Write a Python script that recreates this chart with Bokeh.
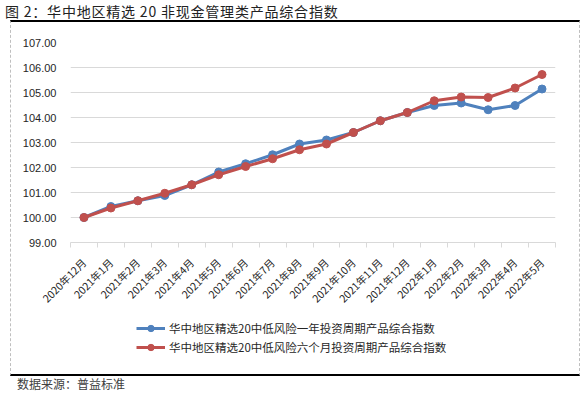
from math import pi
from bokeh.plotting import figure
from bokeh.layouts import column
from bokeh.models import (FactorRange, Range1d, LinearAxis, CategoricalAxis, FixedTicker,
                          NumeralTickFormatter, Legend, LegendItem, Div,
                          ColumnDataSource, InlineStyleSheet)
from bokeh.embed import file_html
from bokeh.resources import INLINE

# ---- data ----
months = ["2020年12月", "2021年1月", "2021年2月", "2021年3月", "2021年4月", "2021年5月",
          "2021年6月", "2021年7月", "2021年8月", "2021年9月", "2021年10月", "2021年11月",
          "2021年12月", "2022年1月", "2022年2月", "2022年3月", "2022年4月", "2022年5月"]
one_year = [100.00, 100.44, 100.67, 100.88, 101.31, 101.82, 102.15, 102.51, 102.94,
            103.10, 103.40, 103.87, 104.20, 104.48, 104.58, 104.31, 104.48, 105.14]
six_month = [100.00, 100.38, 100.67, 100.97, 101.31, 101.71, 102.04, 102.35, 102.71,
             102.94, 103.40, 103.87, 104.20, 104.67, 104.82, 104.80, 105.18, 105.72]
y_ticks = [99, 100, 101, 102, 103, 104, 105, 106, 107]
series_names = ["华中地区精选20中低风险一年投资周期产品综合指数",
                "华中地区精选20中低风险六个月投资周期产品综合指数"]
title_text = "图 2：华中地区精选 20 非现金管理类产品综合指数"
source_text = "数据来源：普益标准"

BLUE = "#4f81bd"
RED = "#c0504d"
GRID = "#d9d9d9"
CJK = "Noto Sans CJK SC"

# ---- header with title ----
head = Div(text=title_text, width=587, height=22, margin=0,
           styles={"font-family": CJK, "font-size": "14px", "color": "#222222",
                   "line-height": "22px", "padding-left": "5px",
                   "letter-spacing": "0.8px", "white-space": "nowrap"})

# ---- main chart ----
src = ColumnDataSource(dict(month=months, one_year=one_year, six_month=six_month))

p = figure(x_range=FactorRange(*months, range_padding=0),
           y_range=Range1d(y_ticks[0], y_ticks[-1]),
           width=587, height=293,
           min_border_left=70, min_border_right=32, min_border_top=20, min_border_bottom=73,
           output_backend="svg", toolbar_location=None, x_axis_location=None)
p.title = None
p.outline_line_color = None
p.background_fill_color = "white"
p.border_fill_color = "white"

p.yaxis.ticker = FixedTicker(ticks=y_ticks)
p.yaxis.formatter = NumeralTickFormatter(format="0.00")
p.yaxis.axis_line_color = None
p.yaxis.major_tick_line_color = None
p.yaxis.minor_tick_line_color = None
p.yaxis.major_label_standoff = 8
p.yaxis.major_label_text_font = "Liberation Sans"
p.yaxis.major_label_text_font_size = "11px"
p.yaxis.major_label_text_color = "#262626"
p.xgrid.visible = False
p.ygrid.grid_line_color = GRID

# ticks at category boundaries (synthetic coordinates)
tick_axis = LinearAxis(ticker=FixedTicker(ticks=list(range(len(months) + 1))),
                       major_label_text_font_size="0px", major_label_standoff=0,
                       major_tick_out=5, major_tick_in=0,
                       minor_tick_line_color=None,
                       axis_line_color=GRID, major_tick_line_color=GRID)
p.add_layout(tick_axis, "below")

cat_axis = CategoricalAxis(major_label_orientation=pi / 4,
                           axis_line_color=None, major_tick_line_color=None,
                           major_label_standoff=7,
                           major_label_text_font=CJK,
                           major_label_text_font_size="10.5px",
                           major_label_text_color="#262626")
p.add_layout(cat_axis, "below")

p.line("month", "one_year", source=src, line_color=BLUE, line_width=3)
p.scatter("month", "one_year", source=src, size=8, fill_color=BLUE, line_color=BLUE)
p.line("month", "six_month", source=src, line_color=RED, line_width=3)
p.scatter("month", "six_month", source=src, size=8, fill_color=RED, line_color=RED)

# ---- footer: legend (its renderers lie outside this strip's view) ----
foot = figure(width=587, height=56, x_range=FactorRange(*months, range_padding=0),
              y_range=Range1d(0, 1),
              min_border=0, output_backend="svg", toolbar_location=None,
              x_axis_location=None, y_axis_location=None)
foot.title = None
foot.xgrid.visible = False
foot.ygrid.visible = False
foot.outline_line_color = None
foot.background_fill_color = "white"
foot.border_fill_color = "white"
kb_l = foot.line("month", "one_year", source=src, line_color=BLUE, line_width=3)
kb_p = foot.scatter("month", "one_year", source=src, size=8, fill_color=BLUE, line_color=BLUE)
kr_l = foot.line("month", "six_month", source=src, line_color=RED, line_width=3)
kr_p = foot.scatter("month", "six_month", source=src, size=8, fill_color=RED, line_color=RED)
legend = Legend(items=[LegendItem(label=series_names[0], renderers=[kb_l, kb_p]),
                       LegendItem(label=series_names[1], renderers=[kr_l, kr_p])],
                location=(66, 16), orientation="vertical", padding=0, margin=0,
                spacing=3, glyph_width=29, glyph_height=16, label_height=16,
                label_standoff=4, label_text_font=CJK, label_text_font_size="11.5px",
                label_text_color="#262626",
                border_line_color=None, background_fill_alpha=0)
foot.add_layout(legend, "center")

# ---- source note ----
source = Div(text='<div style="padding-top:6px;line-height:14px">' + source_text + '</div>',
             width=587, height=22, margin=0,
             styles={"font-family": CJK, "font-size": "12px", "color": "#404040",
                     "padding-left": "17px", "white-space": "nowrap"})

page = column(head, p, foot, source, spacing=0)
page.stylesheets = [InlineStyleSheet(css="""
:host { position: relative; }
:host::after {
  content: ""; position: absolute; left: 10px; top: 20px; width: 568px; height: 352px;
  border-top: 2px solid #000; border-bottom: 2px solid #000;
  border-left: 1px dashed #bfbfbf; border-right: 1px dashed #bfbfbf;
  pointer-events: none; z-index: 5;
}
""")]

open("out.html", "w").write(file_html(page, INLINE))
